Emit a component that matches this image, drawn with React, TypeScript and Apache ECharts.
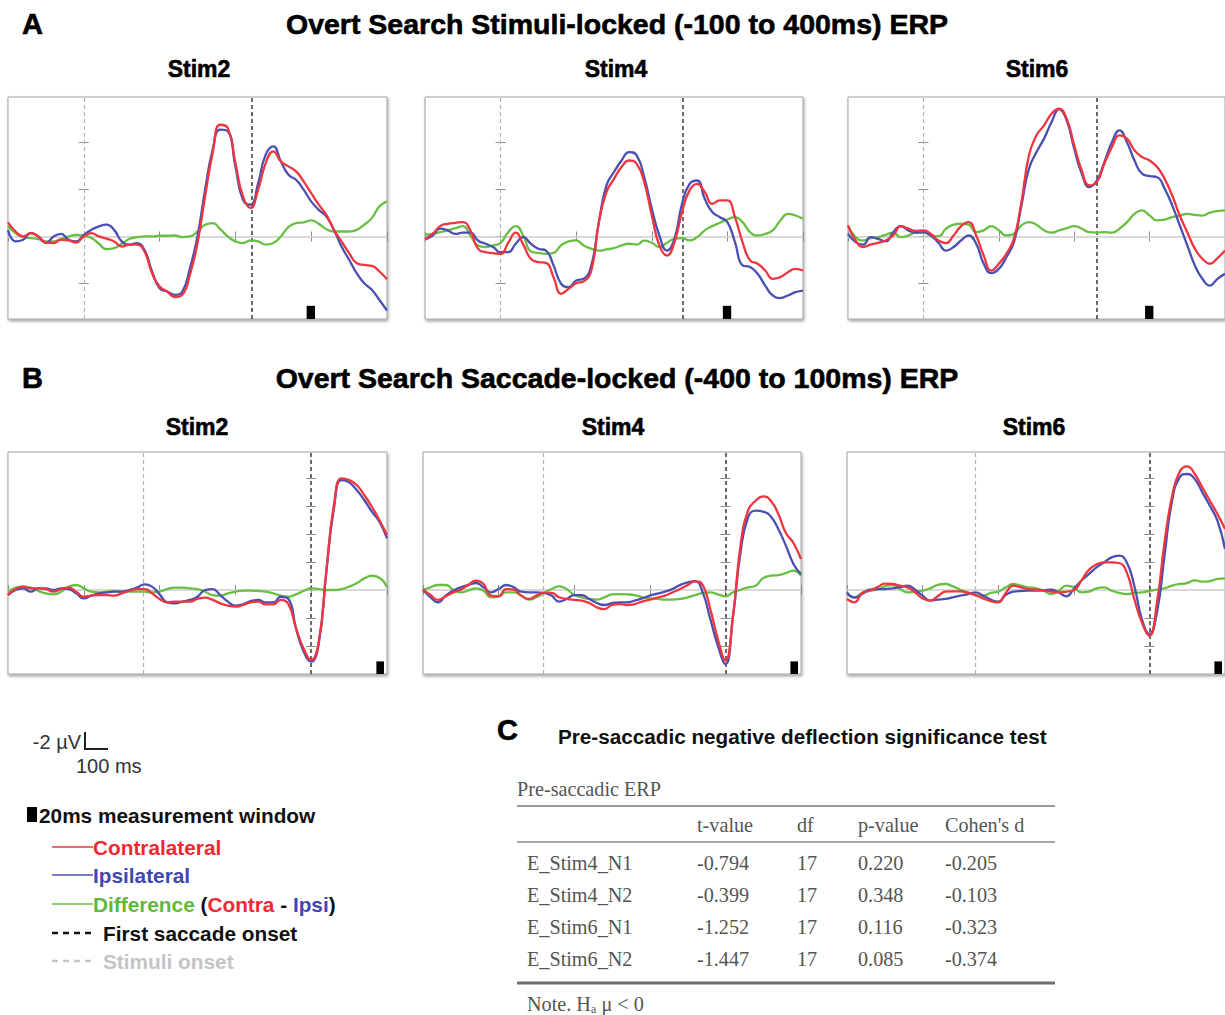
import React, { useEffect, useRef } from 'react';
import * as echarts from 'echarts';

// ---------- DATA ----------
const timeA = Array.from({ length: 51 }, (_, i) => -100 + i * 10); // stimulus-locked, ms
const timeB = Array.from({ length: 51 }, (_, i) => -400 + i * 10); // saccade-locked, ms

const stimLabels = ['Stim2', 'Stim4', 'Stim6'];
const saccadeLatency = [222, 241, 230]; // mean first-saccade onset (ms after stimuli)
const windowA = [294, 305];
const windowB = [86, 96];

// Row A (stimulus-locked)
const a1Contra = [0.6, 0.21, 0, 0.14, 0, -0.26, -0.28, -0.14, -0.17, -0.26, 0, 0.14, 0, -0.09, -0.21, -0.43, -0.35, -0.35, -0.64, -1.56, -2.13, -2.34, -2.58, -2.48, -1.63, -0.28, 1.7, 3.55, 4.75, 4.61, 3.12, 1.7, 1.21, 1.99, 3.12, 3.62, 3.19, 2.98, 2.77, 2.34, 1.84, 1.35, 0.92, 0.28, -0.21, -0.71, -1.13, -1.21, -1.25, -1.49, -1.82];
const a1Ipsi = [0.28, -0.21, -0.14, 0.14, 0, -0.28, 0, 0.11, -0.14, -0.21, 0.07, 0.28, 0.43, 0.5, 0.28, -0.21, -0.35, -0.28, -0.57, -1.49, -2.2, -2.34, -2.48, -2.34, -1.35, 0, 1.99, 3.69, 4.54, 4.47, 2.98, 1.56, 1.35, 2.27, 3.48, 3.83, 3.19, 2.62, 2.41, 1.99, 1.49, 1.13, 0.85, 0.28, -0.43, -0.99, -1.56, -1.99, -2.27, -2.7, -3.15];
const a1Diff = [0.43, 0.14, -0.03, -0.07, -0.11, -0.21, -0.21, -0.11, 0, 0.07, 0.03, -0.07, -0.31, -0.54, -0.5, -0.31, -0.11, -0.03, 0, 0, 0.03, 0.03, 0.04, -0.03, 0, 0.21, 0.5, 0.57, 0.31, 0, -0.21, -0.28, -0.17, -0.21, -0.35, -0.28, 0, 0.4, 0.57, 0.6, 0.68, 0.54, 0.31, 0.21, 0.21, 0.21, 0.28, 0.5, 0.78, 1.28, 1.49];

const a2Contra = [-0.1, 0.11, 0.44, 0.54, 0.58, 0.61, 0.26, -0.52, -0.67, -0.71, -0.74, -0.27, 0.16, -0.35, -0.95, -1.09, -1.12, -1.73, -2.44, -2.23, -1.99, -1.91, -1.45, 0.61, 1.89, 2.45, 2.95, 3.23, 3.09, 2.31, 0.89, -0.38, -0.81, -0.24, 1.04, 1.96, 2.24, 1.89, 1.39, 1.53, 1.53, 0.82, -0.24, -1.02, -1.16, -1.45, -1.8, -1.73, -1.52, -1.38, -1.45];
const a2Ipsi = [-0.13, 0.04, 0.33, 0.26, 0.11, 0.16, 0.16, -0.17, -0.31, -0.45, -0.67, -0.67, -0.31, -0.03, -0.31, -0.52, -0.6, -1.23, -2.01, -2.16, -1.87, -1.8, -1.23, 0.61, 2.17, 2.74, 3.23, 3.59, 3.45, 2.52, 1.18, 0.04, -0.6, -0.1, 1.39, 2.24, 2.38, 1.6, 1.04, 0.82, 0.61, -0.24, -1.23, -1.3, -1.59, -2.09, -2.51, -2.62, -2.51, -2.37, -2.3];
const a2Diff = [0.07, 0.11, 0.18, 0.26, 0.35, 0.44, 0.04, -0.38, -0.45, -0.38, -0.27, 0.18, 0.44, 0.04, -0.64, -0.7, -0.74, -0.7, -0.38, -0.21, -0.17, -0.38, -0.52, -0.6, -0.55, -0.5, -0.38, -0.31, -0.35, -0.18, -0.27, -0.45, -0.27, -0.1, -0.07, -0.17, -0.03, 0.26, 0.44, 0.58, 0.72, 0.82, 0.61, 0.18, 0.04, 0.11, 0.26, 0.68, 0.96, 0.89, 0.75];

const a3Contra = [0.47, -0.17, -0.45, -0.35, -0.27, -0.17, 0.04, 0.44, 0.33, 0.24, 0.26, 0.11, -0.17, -0.28, 0.04, 0.44, 0.61, 0.04, -0.81, -1.45, -1.16, -0.74, -0.1, 1.46, 3.45, 4.3, 4.72, 5.22, 5.43, 5.01, 3.87, 2.81, 2.17, 2.31, 3.09, 3.8, 4.3, 4.16, 3.66, 3.38, 3.23, 2.95, 2.45, 1.74, 0.89, 0.18, -0.52, -0.95, -1.16, -0.92, -0.6];
const a3Ipsi = [0.11, -0.24, -0.35, -0.03, -0.1, -0.21, 0.18, 0.44, 0.26, 0.16, 0.18, 0.04, -0.27, -0.6, -0.45, -0.17, 0.04, -0.31, -1.16, -1.56, -1.38, -0.88, -0.24, 1.32, 2.88, 3.59, 4.16, 4.87, 5.4, 4.94, 3.73, 2.67, 2.1, 2.38, 3.16, 4.01, 4.51, 4.01, 3.23, 2.67, 2.57, 2.52, 2.03, 1.32, 0.47, -0.38, -1.23, -1.8, -2.09, -1.8, -1.59];
const a3Diff = [0.47, -0.03, -0.17, -0.07, -0.03, 0.07, 0.16, -0.03, 0.04, 0.16, 0.16, 0.04, 0.01, 0.33, 0.5, 0.54, 0.5, 0.18, 0.26, 0.44, 0.26, 0.04, 0.11, 0.47, 0.61, 0.5, 0.26, 0.16, 0.26, 0.35, 0.44, 0.33, 0.18, 0.16, 0.18, 0.16, 0.33, 0.61, 0.96, 1.11, 0.89, 0.68, 0.72, 0.82, 0.89, 0.96, 0.92, 0.89, 1.01, 1.08, 1.11];

// Row B (saccade-locked)
const b1Contra = [-0.36, 0.07, 0.24, 0.12, 0.12, 0.07, -0.12, 0.07, 0.17, -0.12, -0.48, -0.4, -0.36, -0.36, -0.4, -0.24, -0.07, 0.07, 0.07, -0.24, -0.64, -0.88, -0.83, -0.83, -0.83, -0.64, -0.55, -0.71, -0.95, -1.12, -1.19, -1.07, -0.88, -0.83, -1.02, -1.02, -0.71, -1.02, -2.74, -4.17, -5.0, -3.69, 1.4, 6.07, 7.98, 7.86, 7.5, 6.79, 5.95, 5.0, 3.93];
const b1Ipsi = [-0.36, 0, 0.12, -0.12, 0.12, 0.12, 0, 0.12, 0.07, -0.24, -0.6, -0.4, -0.24, -0.17, -0.12, -0.12, 0, 0.17, 0.4, 0.24, -0.31, -0.88, -0.95, -0.83, -0.71, -0.48, 0, 0.07, -0.36, -0.83, -1.12, -1.02, -0.79, -0.71, -0.88, -0.88, -0.48, -0.64, -2.74, -4.4, -5.12, -3.81, 1.3, 5.83, 7.86, 7.69, 7.14, 6.43, 5.6, 4.88, 3.69];
const b1Diff = [-0.12, 0.17, 0.24, 0.17, -0.07, -0.24, -0.31, -0.12, 0.24, 0.36, 0.12, -0.12, -0.17, -0.12, -0.07, -0.12, -0.12, -0.12, -0.12, -0.17, -0.12, 0.07, 0.17, 0.17, 0.12, 0.07, -0.12, -0.36, -0.4, -0.24, -0.12, -0.05, -0.05, -0.07, -0.12, -0.24, -0.4, -0.48, -0.31, -0.07, 0.12, 0.07, 0, 0, 0.07, 0.24, 0.48, 0.83, 1.02, 0.88, 0.24];

const b2Contra = [0.02, -0.36, -0.71, -0.45, -0.17, 0.02, 0.36, 0.67, 0.43, -0.4, -0.45, 0.07, 0.02, -0.4, -0.64, -0.4, -0.21, -0.21, -0.52, -0.64, -0.71, -0.76, -0.93, -1.24, -1.36, -1.07, -1.0, -1.07, -1.0, -0.83, -0.69, -0.55, -0.4, -0.17, 0.07, 0.36, 0.62, 0.36, -1.36, -3.5, -5.05, -1.9, 3.17, 5.67, 6.38, 6.69, 6.38, 5.43, 4.07, 3.36, 2.21];
const b2Ipsi = [0.02, -0.52, -0.88, -0.4, -0.05, 0.19, 0.36, 0.5, 0.19, -0.17, 0.07, 0.36, 0.19, -0.12, -0.17, -0.17, -0.21, -0.4, -0.83, -0.64, -0.36, -0.36, -0.64, -0.93, -1.07, -0.93, -0.88, -0.88, -0.76, -0.6, -0.4, -0.26, -0.12, 0.07, 0.36, 0.55, 0.64, -0.17, -2.07, -3.98, -5.29, -1.9, 2.69, 5.19, 5.67, 5.6, 5.26, 4.36, 3.17, 1.86, 1.14];
const b2Diff = [0.02, 0.19, 0.36, 0.36, 0.02, -0.17, -0.02, 0.12, -0.05, -0.52, -0.45, -0.17, -0.17, -0.4, -0.69, -0.52, -0.21, 0.07, 0.26, 0.07, -0.36, -0.52, -0.64, -0.69, -0.52, -0.31, -0.29, -0.31, -0.36, -0.52, -0.6, -0.64, -0.69, -0.69, -0.64, -0.52, -0.36, -0.21, -0.17, -0.31, -0.45, -0.17, 0.02, 0.19, 0.31, 0.85, 1.02, 1.07, 1.21, 1.38, 1.02];

const b3Contra = [-0.64, -0.88, -0.21, -0.05, 0.19, 0.45, 0.43, 0.31, 0.19, -0.17, -0.6, -0.76, -0.45, -0.12, -0.1, -0.1, -0.21, -0.36, -0.6, -0.79, -0.88, -0.21, 0.31, 0.19, 0.07, 0.02, -0.02, -0.12, -0.17, -0.12, -0.02, 0.67, 1.45, 1.83, 1.98, 1.98, 1.93, 1.26, -0.64, -2.31, -3.26, -0.88, 3.4, 6.7, 8.45, 8.83, 8.29, 7.33, 6.38, 5.43, 4.36];
const b3Ipsi = [-0.17, -0.55, -0.29, 0.02, 0.07, 0.07, 0.12, 0.21, 0.31, 0.02, -0.4, -0.76, -0.69, -0.64, -0.52, -0.4, -0.29, -0.17, -0.4, -0.69, -0.83, -0.36, -0.12, -0.07, -0.05, -0.05, -0.02, 0.02, -0.17, -0.45, 0.07, 0.67, 1.14, 1.62, 1.98, 2.33, 2.45, 1.98, 0.31, -2.07, -3.14, -1.6, 2.45, 6.38, 8.05, 8.29, 7.93, 6.98, 6.02, 4.95, 2.93];
const b3Diff = [-0.29, -0.52, -0.21, -0.05, 0.02, 0.26, 0.36, 0.07, -0.17, -0.12, -0.05, 0.12, 0.36, 0.43, 0.26, 0.02, -0.17, -0.36, -0.4, -0.21, -0.12, 0.19, 0.43, 0.31, 0.19, 0.12, -0.05, -0.29, -0.05, 0.31, 0.19, -0.17, -0.12, 0.12, 0.19, -0.05, -0.21, -0.29, -0.21, -0.17, -0.07, 0.02, 0.12, 0.31, 0.43, 0.5, 0.69, 0.6, 0.64, 0.79, 0.83];

// Table C
const tableTitle = 'Pre-saccadic ERP';
const tableHeaders = ['t-value', 'df', 'p-value', "Cohen's d"];
const tableRows = ['E_Stim4_N1', 'E_Stim4_N2', 'E_Stim6_N1', 'E_Stim6_N2'];
const tValues = [-0.794, -0.399, -1.252, -1.447];
const dfValues = [17, 17, 17, 17];
const pValues = [0.22, 0.348, 0.116, 0.085];
const cohensD = [-0.205, -0.103, -0.323, -0.374];

// ---------- STYLE / LAYOUT ----------
const RED = '#ef3640';
const BLUE = '#4a50b2';
const GREEN = '#68bf43';
const SANS = "'Liberation Sans', Arial, sans-serif";
const SERIF = "'Liberation Serif', 'Times New Roman', serif";

const gridLayout = [
  { left: 8, top: 97, width: 379, height: 222 },
  { left: 425, top: 97, width: 378, height: 222 },
  { left: 848, top: 97, width: 379, height: 222 },
  { left: 8, top: 452, width: 379, height: 222 },
  { left: 423, top: 452, width: 378, height: 222 },
  { left: 847, top: 452, width: 379, height: 222 },
];

const rowSpec: any = {
  A: { times: timeA, xMin: -100, xMax: 400, yMin: -3.51, yMax: 5.93, yTicks: [-2, 0, 2, 4], win: windowA, winTop: -2.95 },
  B: { times: timeB, xMin: -400, xMax: 100, yMin: -6, yMax: 9.86, yTicks: [-4, -2, 0, 2, 4, 6, 8], win: windowB, winTop: -5.1 },
};

const panels = [
  { row: 'A', s: 0, contra: a1Contra, ipsi: a1Ipsi, diff: a1Diff },
  { row: 'A', s: 1, contra: a2Contra, ipsi: a2Ipsi, diff: a2Diff },
  { row: 'A', s: 2, contra: a3Contra, ipsi: a3Ipsi, diff: a3Diff },
  { row: 'B', s: 0, contra: b1Contra, ipsi: b1Ipsi, diff: b1Diff },
  { row: 'B', s: 1, contra: b2Contra, ipsi: b2Ipsi, diff: b2Diff },
  { row: 'B', s: 2, contra: b3Contra, ipsi: b3Ipsi, diff: b3Diff },
];

function zip(t: number[], v: number[]) {
  return v.map((y, i) => [t[i], y]);
}

function txt(x: number, y: number, text: string, o: any = {}) {
  return {
    type: 'text',
    x,
    y,
    z: 100,
    silent: true,
    style: {
      text,
      fill: o.fill || '#000',
      stroke: o.stroke,
      lineWidth: o.stroke ? o.strokeWidth || 0.7 : 0,
      fontSize: o.size || 20,
      fontWeight: o.weight || 'normal',
      fontFamily: o.family || SANS,
      textAlign: o.align || 'left',
      textVerticalAlign: 'middle',
      rich: o.rich,
    },
  };
}

function buildOption() {
  const grid: any[] = [];
  const xAxis: any[] = [];
  const yAxis: any[] = [];
  const series: any[] = [];
  const tick = { show: true, inside: true, length: 5, lineStyle: { color: '#8a8a8a', width: 1 } };

  panels.forEach((p, k) => {
    const r = rowSpec[p.row];
    grid.push({
      ...gridLayout[k],
      show: true,
      borderColor: '#a2a2a2',
      borderWidth: 1,
      backgroundColor: '#ffffff',
      shadowColor: 'rgba(0,0,0,0.35)',
      shadowBlur: 3,
      shadowOffsetX: 1,
      shadowOffsetY: 2,
    });
    ['bottom', 'top'].forEach((pos) => {
      xAxis.push({
        type: 'value', gridIndex: k, position: pos, min: r.xMin, max: r.xMax, interval: 100,
        axisLine: { show: false }, axisLabel: { show: false }, splitLine: { show: false }, axisTick: tick,
      });
    });
    ['left', 'right'].forEach((pos) => {
      yAxis.push({
        type: 'value', gridIndex: k, position: pos, min: r.yMin, max: r.yMax,
        axisLine: { show: false }, splitLine: { show: false },
        axisLabel: { show: false, customValues: r.yTicks },
        axisTick: { ...tick, customValues: r.yTicks },
      });
    });
    const stimX = p.row === 'A' ? 0 : -saccadeLatency[p.s];
    const sacX = p.row === 'A' ? saccadeLatency[p.s] : 0;
    const base = {
      type: 'line', xAxisIndex: 2 * k, yAxisIndex: 2 * k, smooth: 0.5, showSymbol: false, symbol: 'none',
      silent: true, clip: true,
    };
    series.push({
      ...base,
      name: 'Difference',
      z: 2,
      data: zip(r.times, p.diff),
      lineStyle: { color: GREEN, width: 2.3 },
      markLine: {
        z: 1,
        silent: true,
        symbol: ['none', 'none'],
        label: { show: false },
        animation: false,
        data: [
          { yAxis: 0, lineStyle: { color: '#cdcdcd', width: 1.5, type: 'solid' } },
          { xAxis: stimX, lineStyle: { color: '#b4b4b4', width: 1.2, type: [4, 3] } },
          { xAxis: sacX, lineStyle: { color: '#3c3c3c', width: 1.5, type: [4, 3] } },
        ],
      },
      markArea: {
        z: 1,
        silent: true,
        itemStyle: { color: '#000000', opacity: 1 },
        data: [[{ coord: [r.win[0], r.winTop] }, { coord: [r.win[1], r.yMin] }]],
      },
    });
    series.push({ ...base, name: 'Ipsilateral', z: 3, data: zip(r.times, p.ipsi), lineStyle: { color: BLUE, width: 2.3 } });
    series.push({ ...base, name: 'Contralateral', z: 4, data: zip(r.times, p.contra), lineStyle: { color: RED, width: 2.3 } });
  });

  // ----- texts & legend & table (graphic) -----
  const g: any[] = [];
  const heavy = { weight: 'bold', stroke: '#000', strokeWidth: 0.6 };
  g.push(txt(22, 24, 'A', { size: 29, ...heavy }));
  g.push(txt(617, 24, 'Overt Search Stimuli-locked (-100 to 400ms) ERP', { size: 28.5, align: 'center', ...heavy }));
  g.push(txt(22, 378, 'B', { size: 29, ...heavy }));
  g.push(txt(617, 378, 'Overt Search Saccade-locked (-400 to 100ms) ERP', { size: 28.5, align: 'center', ...heavy }));
  const stimCentersA = [199, 616, 1037];
  const stimCentersB = [197, 613, 1034];
  stimLabels.forEach((s, i) => {
    g.push(txt(stimCentersA[i], 69, s, { size: 23, align: 'center', ...heavy }));
    g.push(txt(stimCentersB[i], 427, s, { size: 23, align: 'center', ...heavy }));
  });

  // scale bar
  g.push(txt(81, 742, '-2 µV', { size: 20, align: 'right', fill: '#333' }));
  g.push({ type: 'polyline', z: 100, silent: true, shape: { points: [[85, 732], [85, 749], [108, 749]] }, style: { stroke: '#222', lineWidth: 2, fill: 'none' } });
  g.push(txt(76, 766, '100 ms', { size: 20, fill: '#333' }));

  // legend
  g.push({ type: 'rect', z: 100, silent: true, shape: { x: 27, y: 807, width: 10, height: 15 }, style: { fill: '#000' } });
  g.push(txt(39, 815, '20ms measurement window', { size: 20.8, weight: 'bold', fill: '#111' }));
  const legendLine = (y: number, color: string, dash?: number[], w = 1.6) => ({
    type: 'line', z: 100, silent: true, shape: { x1: 52, y1: y, x2: dash ? 96 : 93, y2: y },
    style: { stroke: color, lineWidth: w, lineDash: dash },
  });
  g.push(legendLine(847, RED));
  g.push(txt(93, 847, 'Contralateral', { size: 20.8, weight: 'bold', fill: '#ee2a34' }));
  g.push(legendLine(875, BLUE));
  g.push(txt(93, 875, 'Ipsilateral', { size: 20.8, weight: 'bold', fill: '#3f47b0' }));
  g.push(legendLine(904, GREEN));
  const bold20 = { fontSize: 20.8, fontWeight: 'bold', fontFamily: SANS };
  g.push(txt(93, 904, '{g|Difference} {k|(}{r|Contra}{k| - }{b|Ipsi}{k|)}', {
    size: 20.8, weight: 'bold', fill: '#111',
    rich: {
      g: { ...bold20, fill: '#5fba3a' },
      k: { ...bold20, fill: '#111' },
      r: { ...bold20, fill: '#ee2a34' },
      b: { ...bold20, fill: '#3f47b0' },
    },
  }));
  g.push(legendLine(933, '#111', [6, 5], 2.5));
  g.push(txt(103, 933, 'First saccade onset', { size: 20.8, weight: 'bold', fill: '#111' }));
  g.push(legendLine(961, '#c6c6c6', [6, 5], 2.5));
  g.push(txt(103, 961, 'Stimuli onset', { size: 20.8, weight: 'bold', fill: '#c4c4c4' }));

  // table C
  g.push(txt(497, 730, 'C', { size: 29, ...heavy }));
  g.push(txt(558, 736, 'Pre-saccadic negative deflection significance test', { size: 20.7, weight: 'bold', fill: '#111' }));
  const tc = { size: 20.2, family: SERIF, fill: '#555' };
  g.push(txt(517, 789, tableTitle, tc));
  const rule = (y: number, w: number, c: string) => ({
    type: 'line', z: 100, silent: true, shape: { x1: 517, y1: y, x2: 1055, y2: y }, style: { stroke: c, lineWidth: w },
  });
  g.push(rule(806, 2, '#9a9a9a'));
  g.push(rule(842, 1.5, '#8a8a8a'));
  g.push(rule(983, 3, '#6f6f6f'));
  const colX = [697, 797, 858, 945];
  tableHeaders.forEach((h, i) => g.push(txt(colX[i], 825, h, tc)));
  const rowY = [863, 895, 927, 959];
  tableRows.forEach((name, i) => {
    g.push(txt(527, rowY[i], name, tc));
    g.push(txt(colX[0], rowY[i], tValues[i].toFixed(3), tc));
    g.push(txt(colX[1], rowY[i], String(dfValues[i]), tc));
    g.push(txt(colX[2], rowY[i], pValues[i].toFixed(3), tc));
    g.push(txt(colX[3], rowY[i], cohensD[i].toFixed(3), tc));
  });
  g.push(txt(527, 1004, 'Note. Hₐ μ < 0', tc));

  return {
    animation: false,
    backgroundColor: '#ffffff',
    grid,
    xAxis,
    yAxis,
    series,
    graphic: { elements: g },
  };
}

export default function App() {
  const ref = useRef<HTMLDivElement>(null);
  useEffect(() => {
    if (!ref.current) return;
    const chart = echarts.init(ref.current, undefined, { renderer: 'svg' });
    chart.setOption(buildOption() as any);
    return () => chart.dispose();
  }, []);
  return (
    <div
      ref={ref}
      style={{ position: 'absolute', left: 0, top: 0, width: 1225, height: 1015, background: '#fff' }}
    />
  );
}
